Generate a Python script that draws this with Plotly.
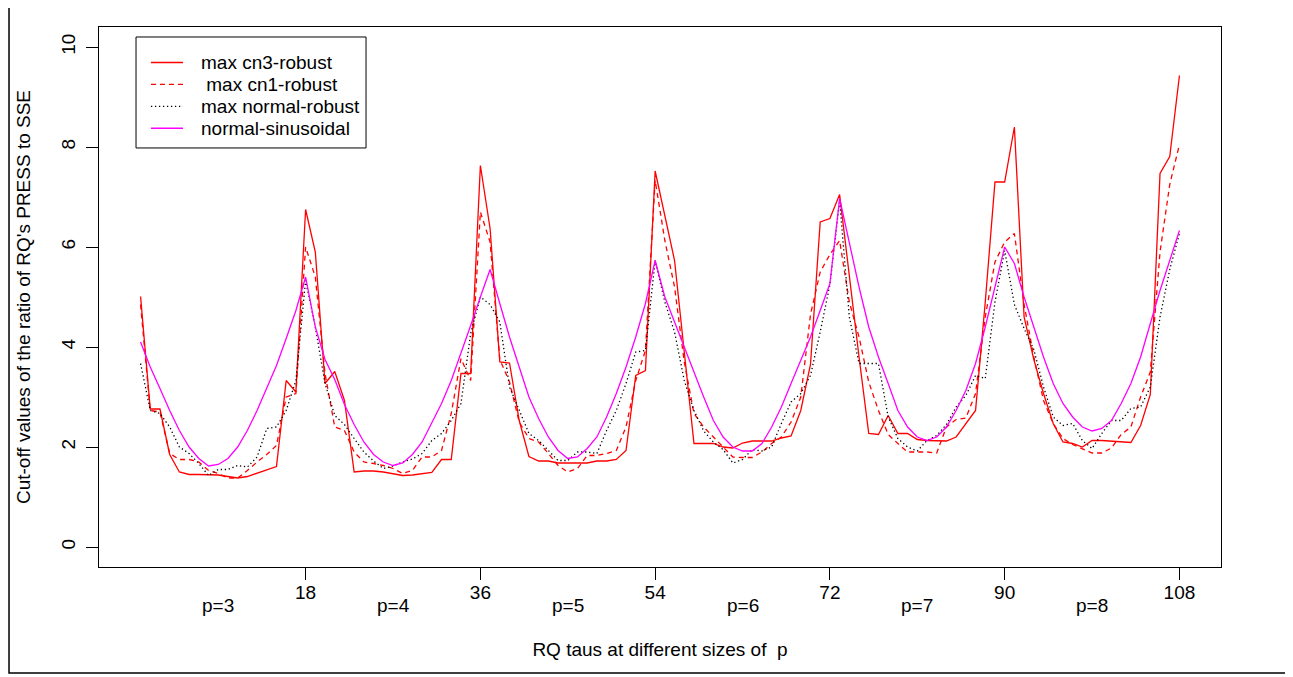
import plotly.graph_objects as go

# ---------------- data ----------------
tau_index = list(range(1, 109))

max_cn3_robust = [
    5.01, 2.76, 2.76, 1.85, 1.50, 1.45, 1.45, 1.45, 1.44, 1.41, 1.38, 1.41, 1.48, 1.55, 1.61, 3.33, 3.10, 6.75,
    5.90, 3.27, 3.51, 2.93, 1.50, 1.52, 1.52, 1.50, 1.47, 1.43, 1.44, 1.47, 1.49, 1.75, 1.75, 3.47, 3.47, 7.63,
    6.37, 3.70, 3.68, 2.53, 1.81, 1.72, 1.72, 1.68, 1.68, 1.68, 1.68, 1.72, 1.72, 1.75, 1.93, 3.43, 3.53, 7.52,
    6.60, 5.73, 3.90, 2.07, 2.07, 2.07, 2.00, 1.98, 2.08, 2.12, 2.12, 2.12, 2.18, 2.22, 2.73, 3.65, 6.50, 6.57,
    7.05, 5.40, 3.80, 2.27, 2.25, 2.63, 2.27, 2.27, 2.15, 2.13, 2.12, 2.12, 2.20, 2.47, 2.73, 4.90, 7.30, 7.30,
    8.40, 4.60, 3.75, 3.07, 2.47, 2.10, 2.07, 2.00, 2.13, 2.13, 2.12, 2.10, 2.09, 2.43, 3.05, 7.47, 7.81, 9.43,
]

max_cn1_robust = [
    4.85, 2.73, 2.70, 1.87, 1.75, 1.75, 1.70, 1.53, 1.47, 1.38, 1.38, 1.53, 1.70, 1.85, 2.03, 3.00, 3.07, 6.00,
    5.40, 3.47, 2.40, 2.33, 1.90, 1.70, 1.67, 1.63, 1.57, 1.47, 1.53, 1.80, 1.80, 1.93, 2.67, 3.77, 3.33, 6.70,
    6.10, 3.75, 3.30, 2.50, 2.17, 2.10, 1.87, 1.63, 1.50, 1.57, 1.83, 1.83, 1.87, 1.93, 2.40, 3.33, 3.93, 7.33,
    6.13, 5.20, 3.70, 2.67, 2.40, 2.20, 2.00, 1.80, 1.79, 1.79, 1.90, 2.07, 2.20, 2.50, 3.00, 4.65, 5.50, 5.85,
    6.13, 4.90, 4.20, 3.30, 2.73, 2.25, 2.07, 1.90, 1.90, 1.90, 1.88, 2.40, 2.55, 2.58, 3.07, 4.60, 5.70, 6.10,
    6.27, 4.85, 3.80, 2.93, 2.47, 2.17, 2.05, 1.97, 1.88, 1.88, 1.98, 2.25, 2.40, 3.00, 3.50, 5.90, 7.25, 8.05,
]

max_normal_robust = [
    3.67, 2.73, 2.67, 2.40, 2.00, 1.87, 1.67, 1.43, 1.55, 1.55, 1.63, 1.60, 1.80, 2.37, 2.40, 2.73, 3.33, 5.33,
    4.40, 3.27, 2.63, 2.45, 2.17, 1.90, 1.72, 1.57, 1.62, 1.70, 1.76, 1.87, 2.13, 2.27, 2.53, 2.87, 4.27, 5.00,
    4.85, 4.50, 3.20, 2.73, 2.27, 2.13, 1.93, 1.73, 1.73, 1.90, 1.90, 1.87, 2.33, 2.73, 3.27, 3.90, 3.93, 5.73,
    4.90, 4.30, 3.33, 2.73, 2.32, 2.10, 1.95, 1.68, 1.75, 1.95, 1.92, 2.00, 2.47, 2.90, 3.07, 3.43, 4.30, 5.25,
    6.93, 4.60, 3.67, 3.67, 3.67, 2.60, 2.17, 2.00, 1.92, 2.13, 2.23, 2.45, 2.80, 3.03, 3.43, 3.37, 4.90, 5.93,
    4.85, 4.37, 3.95, 3.20, 2.60, 2.43, 2.47, 2.13, 1.97, 2.27, 2.53, 2.53, 2.77, 2.80, 3.20, 4.60, 5.55, 6.27,
]

normal_sinusoidal = [
    4.10, 3.60, 3.17, 2.73, 2.33, 2.00, 1.77, 1.62, 1.65, 1.77, 2.00, 2.33, 2.73, 3.17, 3.63, 4.17, 4.73, 5.40,
    4.40, 3.75, 3.35, 2.85, 2.45, 2.10, 1.85, 1.70, 1.63, 1.68, 1.85, 2.10, 2.47, 2.87, 3.33, 3.87, 4.43, 5.00,
    5.55, 4.87, 4.20, 3.60, 3.00, 2.57, 2.20, 1.93, 1.77, 1.80, 1.97, 2.20, 2.60, 3.07, 3.60, 4.20, 4.87, 5.73,
    5.00, 4.50, 4.00, 3.47, 3.00, 2.53, 2.20, 2.00, 1.92, 1.92, 2.07, 2.40, 2.80, 3.27, 3.73, 4.20, 4.73, 5.27,
    6.97, 6.10, 5.20, 4.40, 3.80, 3.27, 2.73, 2.40, 2.20, 2.13, 2.20, 2.40, 2.73, 3.13, 3.67, 4.40, 5.20, 6.00,
    5.67, 5.00, 4.40, 3.80, 3.27, 2.87, 2.60, 2.40, 2.32, 2.37, 2.53, 2.87, 3.27, 3.80, 4.47, 5.13, 5.73, 6.33,
]

x_ticks = [18, 36, 54, 72, 90, 108]
x_tick_labels = ["18", "36", "54", "72", "90", "108"]
p_labels = ["p=3", "p=4", "p=5", "p=6", "p=7", "p=8"]
y_ticks = [0, 2, 4, 6, 8, 10]

series_names = ["max cn3-robust", " max cn1-robust", "max normal-robust", "normal-sinusoidal"]
series_values = [max_cn3_robust, max_cn1_robust, max_normal_robust, normal_sinusoidal]
series_colors = ["#FF0000", "#FF0000", "#000000", "#FF00FF"]
series_dashes = ["solid", "5px,4px", "1.3px,2.7px", "solid"]

FONT = "Liberation Sans, Arial, sans-serif"
SIZE = 19

fig = go.Figure()
for name, vals, col, dash in zip(series_names, series_values, series_colors, series_dashes):
    fig.add_trace(go.Scatter(
        x=tau_index, y=vals, mode="lines", name=name, showlegend=False,
        line=dict(color=col, width=1.3, dash=dash),
    ))

# p-group labels, centred in each block of 18 taus
p_positions = [t - 9 for t in x_ticks]
for xp, lab in zip(p_positions, p_labels):
    fig.add_annotation(x=xp, y=-0.072, xref="x", yref="paper", text=lab,
                       showarrow=False, yanchor="middle",
                       font=dict(family=FONT, size=SIZE, color="black"))

# legend (R-style boxed key, top-left of the plot)
fig.add_shape(type="rect", xref="paper", yref="paper",
              x0=0.033, x1=0.238, y0=0.776, y1=0.9815,
              line=dict(color="black", width=1), fillcolor="white", layer="above")
row_y0, row_step = 0.9343, 0.0406
for k, (name, col, dash) in enumerate(zip(series_names, series_colors, series_dashes)):
    yk = row_y0 - k * row_step
    fig.add_shape(type="line", xref="paper", yref="paper",
                  x0=0.0463, x1=0.0749, y0=yk, y1=yk,
                  line=dict(color=col, width=1.3, dash=dash), layer="above")
    fig.add_annotation(x=0.0891, y=yk, xref="paper", yref="paper", text=name,
                       showarrow=False, xanchor="left", yanchor="middle",
                       font=dict(family=FONT, size=SIZE, color="black"))

# outer frame around the whole figure
fig.add_shape(type="rect", xref="paper", yref="paper",
              x0=-0.0802, x1=1.0588, y0=-0.1963, y1=1.08,
              line=dict(color="black", width=1.5), layer="above")

fig.update_layout(
    width=1285, height=669,
    margin=dict(l=91, r=72, t=19, b=110, autoexpand=False),
    paper_bgcolor="white", plot_bgcolor="white",
    font=dict(family=FONT, size=SIZE, color="black"),
    showlegend=False,
    xaxis=dict(range=[-3.28, 112.28], tickmode="array", tickvals=x_ticks,
               ticktext=x_tick_labels, ticks="outside", ticklen=12,
               tickcolor="black", showgrid=False, zeroline=False,
               showline=True, linecolor="black", linewidth=1, mirror=True,
               tickfont=dict(family=FONT, size=SIZE), ticklabelstandoff=-4,
               title=dict(text="RQ taus at different sizes of  p",
                          font=dict(family=FONT, size=SIZE), standoff=40),
               automargin=False),
    yaxis=dict(range=[-0.4, 10.4], tickmode="array", tickvals=y_ticks,
               ticks="outside", ticklen=12, tickcolor="black",
               tickangle=-90, showgrid=False, zeroline=False,
               showline=True, linecolor="black", linewidth=1, mirror=True,
               tickfont=dict(family=FONT, size=SIZE), ticklabelstandoff=3,
               title=dict(text="Cut-off values of the ratio of RQ's PRESS to SSE",
                          font=dict(family=FONT, size=SIZE), standoff=22),
               automargin=False),
)

fig.write_html("out.html")
